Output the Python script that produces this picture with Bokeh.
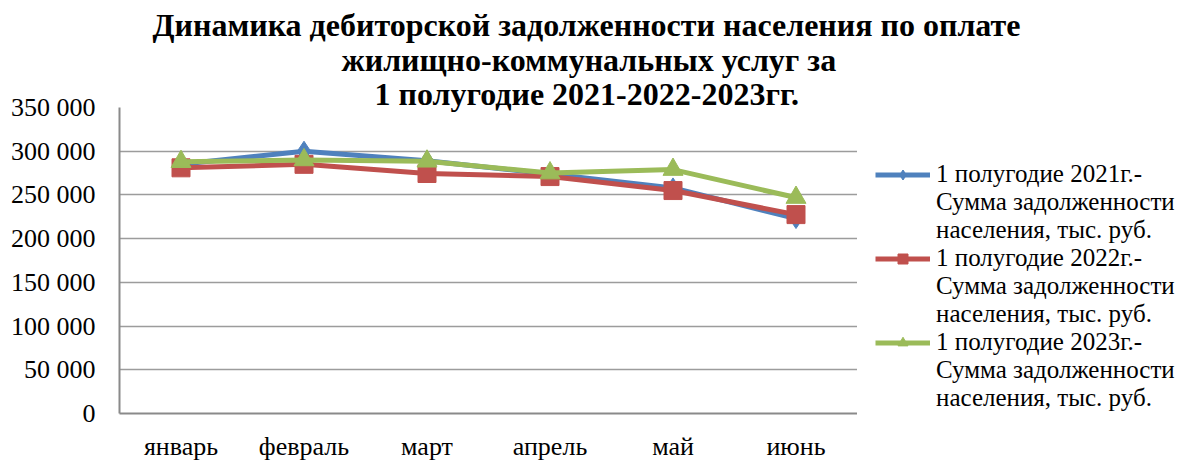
from bokeh.plotting import figure
from bokeh.models import (FactorRange, Range1d, FixedTicker, Legend, LegendItem, Title,
                          ColumnDataSource)
from bokeh.layouts import column, row
from bokeh.embed import file_html
from bokeh.resources import INLINE

months = ["январь", "февраль", "март", "апрель", "май", "июнь"]
debt_2021 = [285000, 300000, 289000, 274000, 258000, 223000]
debt_2022 = [281000, 285000, 274500, 271000, 255000, 227500]
debt_2023 = [288000, 290000, 288500, 275000, 279000, 247000]
y_ticks = [0, 50000, 100000, 150000, 200000, 250000, 300000, 350000]
y_labels = ["0", "50 000", "100 000", "150 000", "200 000", "250 000", "300 000", "350 000"]
series_names = ["1 полугодие 2021г.-", "1 полугодие 2022г.-", "1 полугодие 2023г.-"]
legend_tail = ["Сумма задолженности", "населения, тыс. руб."]
title_lines = ["Динамика дебиторской задолженности населения по оплате",
               "жилищно-коммунальных услуг за",
               "1 полугодие 2021-2022-2023гг."]

FONT = "Liberation Serif"
TFS = "32px"
AFS = "26px"
LFS = "25px"

colors = ["#4F81BD", "#C0504D", "#9BBB59"]
markers = ["diamond", "square", "triangle"]
msizes = [20, 18, 20]
data = [debt_2021, debt_2022, debt_2023]


def title(text, offset, standoff):
    return Title(text=text, align="left", offset=offset, standoff=standoff,
                 text_font=FONT, text_font_size=TFS, text_font_style="bold",
                 text_color="black")


# --- title strip (first two lines) ---
tfig = figure(width=1195, height=78, x_range=Range1d(0, 1), y_range=Range1d(0, 1),
              x_axis_type=None, y_axis_type=None, output_backend="svg",
              toolbar_location=None, title=None, min_border_left=0, min_border_right=0,
              min_border_top=76, min_border_bottom=0)
tfig.outline_line_color = None
tfig.add_layout(title(title_lines[1], 341, -3), "above")
tfig.add_layout(title(title_lines[0], 152, -3), "above")

# --- main chart ---
p = figure(x_range=FactorRange(*months), y_range=Range1d(0, 350000),
           width=857, height=392, output_backend="svg", toolbar_location=None,
           title=title(title_lines[2], 255, -9),
           min_border_left=119, min_border_right=0, min_border_top=29, min_border_bottom=57)
p.outline_line_color = None
p.background_fill_color = "white"
p.border_fill_color = "white"

p.xgrid.grid_line_color = None
p.ygrid.grid_line_color = "#9c9c9c"
p.ygrid.grid_line_width = 1.5

p.yaxis.ticker = FixedTicker(ticks=y_ticks)
p.yaxis.major_label_overrides = {t: l for t, l in zip(y_ticks, y_labels)}
p.yaxis.minor_tick_line_color = None
p.yaxis.major_tick_line_color = None
p.yaxis.major_tick_out = 0
p.yaxis.major_label_standoff = 24
for ax in (p.xaxis, p.yaxis):
    ax.axis_line_color = "#8a8a8a"
    ax.axis_line_width = 2
    ax.major_label_text_font = FONT
    ax.major_label_text_color = "black"
    ax.major_label_text_font_size = AFS
p.xaxis.major_tick_line_color = None
p.xaxis.major_tick_out = 0
p.xaxis.major_label_standoff = 18

for vals, c, m, ms in zip(data, colors, markers, msizes):
    src = ColumnDataSource(dict(x=months, y=vals))
    p.line("x", "y", source=src, line_color=c, line_width=5)
    p.scatter("x", "y", source=src, marker=m, size=ms, fill_color=c, line_color=c)

# --- legend panel (proxies lie outside its ranges, so only the legend shows) ---
lfig = figure(width=338, height=392, x_range=Range1d(0, 1), y_range=Range1d(0, 1),
              x_axis_type=None, y_axis_type=None, output_backend="svg",
              toolbar_location=None, title=None, min_border_left=0, min_border_right=0,
              min_border_top=29, min_border_bottom=57)
lfig.outline_line_color = None

items = []
for vals, c, m, ms, name in zip(data, colors, markers, msizes, series_names):
    src = ColumnDataSource(dict(x=vals, y=vals))
    lr = lfig.line("x", "y", source=src, line_color=c, line_width=5)
    sr = lfig.scatter("x", "y", source=src, marker=m, size=ms, fill_color=c, line_color=c)
    items.append(LegendItem(label=name, renderers=[lr, sr]))
    for t in legend_tail:
        dr = lfig.line("x", "y", source=src, line_alpha=0)
        items.append(LegendItem(label=t, renderers=[dr]))

legend = Legend(items=items, location=(18, 1), orientation="vertical",
                label_text_font=FONT, label_text_font_size=LFS, label_text_color="black",
                label_height=25, glyph_height=25, glyph_width=55, spacing=0, padding=0,
                margin=0, label_standoff=6,
                border_line_color=None, background_fill_alpha=0)
lfig.add_layout(legend, "center")

layout = column(tfig, row(p, lfig, spacing=0), spacing=0)

open("out.html", "w").write(file_html(layout, INLINE))
